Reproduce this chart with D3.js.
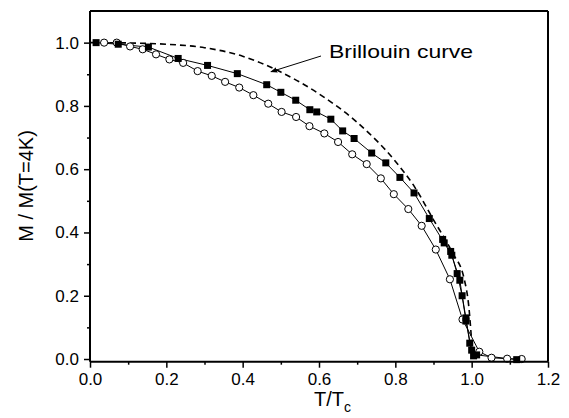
<!DOCTYPE html>
<html>
<head>
<meta charset="utf-8">
<script src="https://cdn.jsdelivr.net/npm/d3@7"></script>
<style>
  html, body { margin: 0; padding: 0; background: #fff; }
  svg { display: block; }
  text { font-family: "Liberation Sans", Arial, sans-serif; fill: #000; }
</style>
</head>
<body>
<svg id="chart" width="569" height="418"></svg>
<script>
// ---------- data ----------
const squareT = [0.016,0.074,0.153,0.231,0.308,0.386,0.463,0.500,0.539,0.576,0.594,0.631,0.662,0.692,0.738,0.775,0.812,0.849,0.889,0.928,0.948,0.969,0.985,1.000,1.013,1.118];
const squareM = [1.000,0.995,0.986,0.950,0.928,0.902,0.867,0.843,0.818,0.788,0.781,0.758,0.721,0.697,0.651,0.620,0.574,0.525,0.444,0.367,0.328,0.249,0.120,0.028,0.013,-0.002];

const square2T = [0.924,0.945,0.962,0.975,0.985,0.995,1.005];
const square2M = [0.378,0.340,0.270,0.200,0.130,0.050,0.010];

const circleT = [0.037,0.070,0.105,0.138,0.173,0.208,0.244,0.282,0.319,0.354,0.391,0.428,0.467,0.502,0.540,0.575,0.614,0.650,0.687,0.725,0.762,0.796,0.834,0.869,0.906,0.943,0.976,1.020,1.052,1.093,1.131];
const circleM = [1.000,1.000,0.988,0.979,0.963,0.947,0.936,0.910,0.895,0.876,0.858,0.834,0.807,0.781,0.765,0.736,0.713,0.686,0.647,0.616,0.571,0.521,0.474,0.421,0.346,0.252,0.125,0.023,0.004,0.001,0.000];

const brillouinT = [0.000,0.100,0.200,0.300,0.400,0.500,0.600,0.700,0.800,0.850,0.900,0.950,0.980,0.993,1.003];
const brillouinM = [1.000,0.999,0.995,0.984,0.957,0.907,0.838,0.748,0.625,0.545,0.440,0.335,0.255,0.160,0.000];

const xTicks = [0.0,0.2,0.4,0.6,0.8,1.0,1.2];
const yTicks = [0.0,0.2,0.4,0.6,0.8,1.0];
const xMinor = [0.1,0.3,0.5,0.7,0.9,1.1];
const yMinor = [0.1,0.3,0.5,0.7,0.9];

const annotation = "Brillouin curve";
const xTitle = "T/T";
const xTitleSub = "c";
const yTitle = "M / M(T=4K)";

// ---------- layout ----------
const svg = d3.select("#chart");
const L = 90, T = 11, R = 548, B = 361.7;
const x = d3.scaleLinear().domain([0, 1.2]).range([L, R]);
const y = d3.scaleLinear().domain([-0.0085, 1.1]).range([B, T]);

const zip = (a, b) => a.map((v, i) => [v, b[i]]);
const line = d3.line().x(d => x(d[0])).y(d => y(d[1]));

const g = svg.append("g");

// Brillouin dashed curve
g.append("path")
  .datum(zip(brillouinT, brillouinM))
  .attr("d", d3.line().x(d => x(d[0])).y(d => y(d[1])).curve(d3.curveMonotoneX))
  .attr("fill", "none").attr("stroke", "#000").attr("stroke-width", 1.6)
  .attr("stroke-dasharray", "6,4");

// data lines
[[circleT, circleM], [squareT, squareM], [square2T, square2M]].forEach(([t, m]) => {
  g.append("path").datum(zip(t, m)).attr("d", line)
    .attr("fill", "none").attr("stroke", "#000").attr("stroke-width", 1);
});

// circles
g.selectAll("circle.c").data(zip(circleT, circleM)).enter().append("circle")
  .attr("cx", d => x(d[0])).attr("cy", d => y(d[1])).attr("r", 3.6)
  .attr("fill", "#fff").attr("stroke", "#000").attr("stroke-width", 1);

// squares
const sq = 7;
g.selectAll("rect.s").data(zip(squareT, squareM).concat(zip(square2T, square2M))).enter().append("rect")
  .attr("x", d => x(d[0]) - sq / 2).attr("y", d => y(d[1]) - sq / 2)
  .attr("width", sq).attr("height", sq).attr("fill", "#000");

// frame
svg.append("line").attr("x1", L).attr("x2", R).attr("y1", T).attr("y2", T).attr("stroke", "#000").attr("stroke-width", 2);
svg.append("line").attr("x1", R).attr("x2", R).attr("y1", T).attr("y2", B).attr("stroke", "#000").attr("stroke-width", 2);

// axes
const fmt = d3.format(".1f");
const xAxis = svg.append("g").attr("transform", `translate(0,${B})`)
  .call(d3.axisBottom(x).tickValues(xTicks).tickFormat(fmt).tickSize(6).tickPadding(5));
const xAxisMinor = svg.append("g").attr("transform", `translate(0,${B})`)
  .call(d3.axisBottom(x).tickValues(xMinor).tickFormat("").tickSize(3));
const yAxis = svg.append("g").attr("transform", `translate(${L},0)`)
  .call(d3.axisLeft(y).tickValues(yTicks).tickFormat(fmt).tickSize(6).tickPadding(5));
const yAxisMinor = svg.append("g").attr("transform", `translate(${L},0)`)
  .call(d3.axisLeft(y).tickValues(yMinor).tickFormat("").tickSize(3));

[xAxis, yAxis, xAxisMinor, yAxisMinor].forEach(a => {
  a.select(".domain").attr("stroke", "#000").attr("stroke-width", 2);
  a.selectAll(".tick line").attr("stroke", "#000").attr("stroke-width", 1.5);
  a.selectAll("text").attr("font-size", 17).attr("font-family", "Liberation Sans, Arial, sans-serif").attr("fill", "#000");
});
xAxis.select(".domain").attr("d", `M${L},0H${R}`);
xAxisMinor.select(".domain").remove();
yAxis.select(".domain").attr("d", `M0,${B}V${T}`);
yAxisMinor.select(".domain").remove();

// titles
const xt = svg.append("text").attr("x", 314).attr("y", 406).attr("text-anchor", "start").attr("font-size", 20);
xt.append("tspan").text(xTitle);
xt.append("tspan").attr("font-size", 14).attr("dy", 6).text(xTitleSub);

svg.append("text").attr("transform", "translate(33,186) rotate(-90)")
  .attr("text-anchor", "middle").attr("font-size", 20).text(yTitle);

// annotation + arrow
svg.append("text").attr("x", 329).attr("y", 58).attr("font-size", 19)
  .attr("textLength", 144).attr("lengthAdjust", "spacingAndGlyphs").text(annotation);
svg.append("defs").append("marker").attr("id", "ah").attr("viewBox", "0 0 10 10")
  .attr("refX", 9).attr("refY", 5).attr("markerWidth", 7).attr("markerHeight", 7)
  .attr("orient", "auto").append("path").attr("d", "M0,1 L10,5 L0,9 Z").attr("fill", "#000");
svg.append("line").attr("x1", 321).attr("y1", 56).attr("x2", x(0.474)).attr("y2", y(0.908))
  .attr("stroke", "#000").attr("stroke-width", 1).attr("marker-end", "url(#ah)");
</script>
</body>
</html>
